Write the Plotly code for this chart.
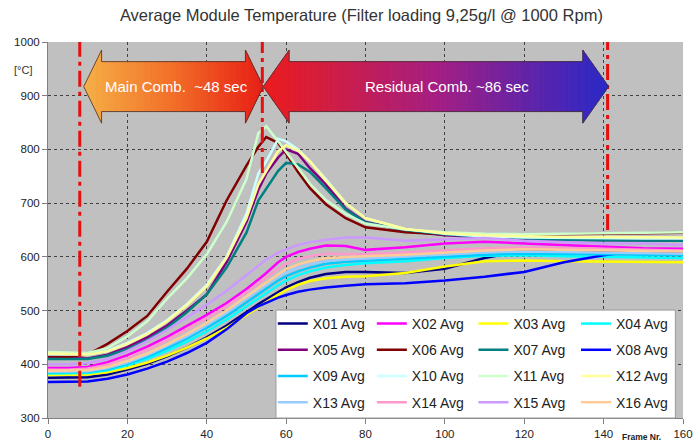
import numpy as np
import plotly.graph_objects as go

# ---- measurement data: average module temperature [°C] per frame ----
frames = [0, 5, 10, 15, 20, 25, 30, 35, 40, 45, 50, 53, 55, 58, 60, 63, 66, 70,
          75, 80, 90, 100, 110, 120, 130, 140, 150, 160]

x01 = [375, 375, 376, 381, 390, 401, 415, 431, 450, 472, 498, 512, 521, 535, 543, 553, 561, 568,
       572, 572, 570, 578, 598, 612, 612, 610, 608, 610]
x02 = [393, 393, 395, 404, 417, 433, 451, 471, 492, 514, 540, 558, 570, 590, 600, 609, 615, 621,
       620, 613, 618, 625, 628, 625, 622, 618, 616, 615]
x03 = [380, 380, 381, 385, 393, 403, 416, 431, 448, 468, 492, 506, 515, 530, 538, 548, 555, 560,
       563, 564, 570, 582, 592, 593, 592, 591, 590, 590]
x04 = [383, 383, 384, 389, 398, 410, 425, 442, 461, 483, 508, 522, 532, 547, 556, 566, 573, 580,
       585, 588, 592, 598, 602, 603, 601, 600, 599, 598]
x05 = [412, 411, 411, 418, 432, 450, 472, 500, 530, 590, 665, 725, 755, 785, 800, 792, 765, 735,
       690, 665, 648, 640, 636, 633, 632, 631, 630, 630]
x06 = [415, 414, 418, 438, 462, 490, 535, 578, 628, 705, 770, 805, 823, 812, 792, 758, 728, 698,
       672, 655, 646, 642, 640, 641, 643, 644, 645, 645]
x07 = [410, 410, 410, 416, 428, 445, 468, 497, 530, 580, 645, 705, 728, 760, 775, 772, 758, 728,
       688, 664, 650, 642, 637, 634, 632, 631, 630, 630]
x08 = [367, 367, 368, 373, 381, 392, 405, 421, 440, 465, 495, 508, 515, 524, 529, 535, 539, 543,
       546, 549, 551, 556, 563, 572, 590, 603, 612, 607]
x09 = [385, 385, 386, 391, 401, 414, 430, 448, 468, 490, 516, 531, 541, 556, 564, 573, 580, 587,
       591, 593, 596, 600, 604, 606, 606, 605, 604, 603]
x10 = [418, 418, 418, 425, 440, 458, 482, 512, 548, 600, 680, 755, 778, 820, 815, 800, 778, 745,
       700, 672, 652, 643, 638, 636, 635, 634, 634, 634]
x11 = [423, 422, 421, 430, 452, 480, 522, 560, 605, 665, 745, 830, 843, 815, 795, 765, 736, 706,
       680, 662, 651, 646, 643, 642, 643, 644, 645, 646]
x12 = [420, 419, 418, 424, 438, 456, 480, 510, 545, 598, 672, 735, 760, 797, 808, 798, 778, 742,
       700, 672, 652, 644, 640, 638, 637, 637, 636, 636]
x13 = [386, 386, 387, 393, 403, 417, 434, 452, 473, 496, 523, 538, 548, 563, 571, 580, 586, 592,
       595, 597, 600, 604, 608, 610, 609, 608, 607, 606]
x14 = [390, 390, 392, 399, 412, 427, 445, 465, 486, 508, 534, 550, 561, 578, 587, 596, 601, 606,
       606, 605, 608, 612, 616, 618, 617, 615, 613, 612]
x15 = [400, 400, 402, 410, 425, 443, 464, 487, 511, 537, 566, 584, 595, 608, 614, 622, 627, 632,
       636, 636, 630, 632, 635, 630, 628, 625, 625, 622]
x16 = [388, 388, 389, 395, 406, 420, 437, 456, 477, 500, 527, 542, 552, 568, 577, 586, 592, 598,
       600, 601, 604, 608, 612, 614, 613, 612, 611, 610]

series_names = ["X01 Avg", "X02 Avg", "X03 Avg", "X04 Avg", "X05 Avg", "X06 Avg", "X07 Avg", "X08 Avg",
                "X09 Avg", "X10 Avg", "X11 Avg", "X12 Avg", "X13 Avg", "X14 Avg", "X15 Avg", "X16 Avg"]
series_values = [x01, x02, x03, x04, x05, x06, x07, x08, x09, x10, x11, x12, x13, x14, x15, x16]
series_colors = ["#000080", "#FF00FF", "#FFFF00", "#00FFFF", "#800080", "#800000", "#008080", "#0000FF",
                 "#00CCFF", "#CCFFFF", "#CCFFCC", "#FFFF99", "#99CCFF", "#FF99CC", "#CC99FF", "#FFCC99"]

# combustion phase boundaries (frame) and lower end of each marker line (°C)
phase_frames = [8, 54, 141]
phase_line_bottom = [358, 756, 650]

# phase arrows: (start frame, end frame, label, colour stops)
phase_labels = ["Main Comb.\u00a0 ~48 sec", "Residual Comb. ~86 sec"]
arrow_spans = [(9, 54.25), (54.25, 141.25)]
arrow_heads = [4.5, 6.5]
arrow_label_x = [32.5, 100.5]
arrow_stops = [
    [(0.0, (246, 176, 70)), (0.5, (242, 110, 40)), (1.0, (232, 30, 20))],
    [(0.0, (236, 28, 28)), (0.5, (165, 30, 130)), (1.0, (40, 40, 200))],
]
ARROW_MID, ARROW_BODY_HALF, ARROW_BARB_HALF = 917, 46.5, 68

x_ticks = [0, 20, 40, 60, 80, 100, 120, 140, 160]
y_ticks = [300, 400, 500, 600, 700, 800, 900, 1000]

FONT = "Liberation Sans, Arial, sans-serif"

fig = go.Figure()

legend_ids = ["legend", "legend2", "legend3", "legend4"]
for i, (name, vals, col) in enumerate(zip(series_names, series_values, series_colors)):
    fig.add_trace(go.Scatter(
        x=frames, y=vals, name=name, mode="lines",
        line=dict(color=col, width=2.5),
        legend=legend_ids[i % 4], legendgroup=name,
    ))


def lerp_color(stops, t):
    for (t0, c0), (t1, c1) in zip(stops[:-1], stops[1:]):
        if t <= t1:
            f = (t - t0) / (t1 - t0) if t1 > t0 else 0
            c = [round(a + (b - a) * f) for a, b in zip(c0, c1)]
            return "rgb(%d,%d,%d)" % tuple(c)
    return "rgb(%d,%d,%d)" % stops[-1][1]


shapes = []

# dash-dot phase boundary markers
for xf, yb in zip(phase_frames, phase_line_bottom):
    shapes.append(dict(type="line", xref="x", yref="y", x0=xf, x1=xf, y0=yb, y1=1000,
                       line=dict(color="#E41010", width=3, dash="16px,5px,4px,5px"), layer="above"))

# gradient double-headed arrows built from thin vertical slices
N_HEAD, N_BODY = 8, 60
for (x0, x1), head, stops in zip(arrow_spans, arrow_heads, arrow_stops):
    edges = list(np.linspace(x0, x0 + head, N_HEAD + 1)) \
        + list(np.linspace(x0 + head, x1 - head, N_BODY + 1))[1:] \
        + list(np.linspace(x1 - head, x1, N_HEAD + 1))[1:]
    for k in range(len(edges) - 1):
        xa, xb = edges[k], edges[k + 1]
        if k < N_HEAD:
            ha = ARROW_BARB_HALF * (xa - x0) / head
            hb = ARROW_BARB_HALF * (xb - x0) / head
        elif k < N_HEAD + N_BODY:
            ha = hb = ARROW_BODY_HALF
        else:
            ha = ARROW_BARB_HALF * (x1 - xa) / head
            hb = ARROW_BARB_HALF * (x1 - xb) / head
        col = lerp_color(stops, ((xa + xb) / 2 - x0) / (x1 - x0))
        path = "M%.3f,%.2f L%.3f,%.2f L%.3f,%.2f L%.3f,%.2f Z" % (
            xa, ARROW_MID - ha, xb, ARROW_MID - hb, xb, ARROW_MID + hb, xa, ARROW_MID + ha)
        shapes.append(dict(type="path", xref="x", yref="y", path=path, fillcolor=col,
                           line=dict(color=col, width=0.8), layer="above"))
    # outline
    pts = [(x0, ARROW_MID), (x0 + head, ARROW_MID + ARROW_BARB_HALF), (x0 + head, ARROW_MID + ARROW_BODY_HALF),
           (x1 - head, ARROW_MID + ARROW_BODY_HALF), (x1 - head, ARROW_MID + ARROW_BARB_HALF), (x1, ARROW_MID),
           (x1 - head, ARROW_MID - ARROW_BARB_HALF), (x1 - head, ARROW_MID - ARROW_BODY_HALF),
           (x0 + head, ARROW_MID - ARROW_BODY_HALF), (x0 + head, ARROW_MID - ARROW_BARB_HALF)]
    path = "M" + " L".join("%.3f,%.2f" % p for p in pts) + " Z"
    shapes.append(dict(type="path", xref="x", yref="y", path=path,
                       line=dict(color="rgba(70,50,50,0.8)", width=1), layer="above"))

# white legend panel
shapes.append(dict(type="rect", xref="paper", yref="paper", x0=0.359, x1=0.988, y0=0, y1=0.287,
                   fillcolor="white", line=dict(color="#9a9a9a", width=1), layer="above"))

annotations = []
for lx, txt in zip(arrow_label_x, phase_labels):
    annotations.append(dict(x=lx, y=ARROW_MID, xref="x", yref="y", text=txt, showarrow=False,
                            font=dict(family=FONT, size=15, color="white")))
annotations.append(dict(x=-0.039, y=0.926, xref="paper", yref="paper", text="[°C]",
                        showarrow=False, xanchor="center", yanchor="middle",
                        font=dict(family=FONT, size=11, color="#333")))
annotations.append(dict(x=0.935, y=-0.05, xref="paper", yref="paper", text="<b>Frame Nr.</b>",
                        showarrow=False, xanchor="center", yanchor="middle",
                        font=dict(family=FONT, size=8.5, color="#222")))

legend_lefts = [0.3540, 0.5100, 0.6700, 0.8315]
legend_common = dict(y=0.2926, yanchor="top", xanchor="left", orientation="v",
                     bgcolor="rgba(0,0,0,0)", borderwidth=0, tracegroupgap=5, traceorder="grouped",
                     font=dict(family=FONT, size=14, color="#222"))
legend_layout = {}
for lid, lx in zip(legend_ids, legend_lefts):
    legend_layout[lid] = dict(x=lx, **legend_common)

axis_common = dict(showgrid=True, gridcolor="#404040", griddash="dot", gridwidth=1,
                   showline=True, linecolor="#808080", linewidth=1, ticks="outside", ticklen=5,
                   tickcolor="#808080", zeroline=False, automargin=False, ticklabeloverflow="allow",
                   tickfont=dict(family=FONT, size=11.5, color="#222"))

fig.update_layout(
    width=695, height=445,
    margin=dict(l=48, r=12, t=42, b=27),
    paper_bgcolor="white", plot_bgcolor="#C0C0C0",
    title=dict(text="Average Module Temperature (Filter loading 9,25g/l @ 1000 Rpm)",
               x=0.52, xanchor="center", y=0.966, yanchor="middle",
               font=dict(family=FONT, size=16.5, color="#333")),
    xaxis=dict(range=[0, 160], tickvals=x_ticks, **axis_common),
    yaxis=dict(range=[300, 1000], tickvals=y_ticks, **axis_common),
    shapes=shapes, annotations=annotations,
    **legend_layout,
)

fig.write_html("out.html")
